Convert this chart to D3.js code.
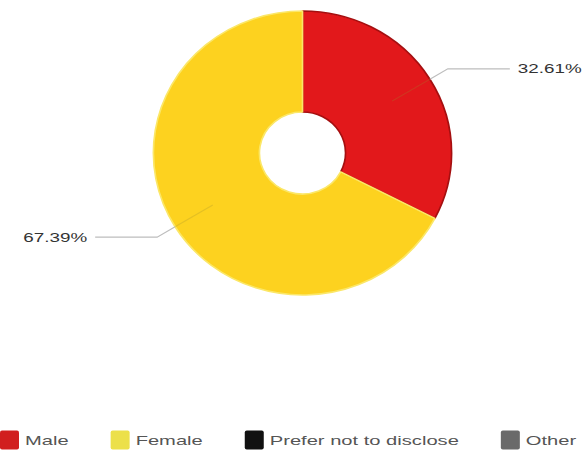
<!DOCTYPE html>
<html>
<head>
<meta charset="utf-8">
<script src="https://cdn.jsdelivr.net/npm/d3@7"></script>
<style>
  html, body { margin: 0; padding: 0; background: #fff; }
  svg { display: block; }
  text { font-family: "Liberation Sans", Arial, sans-serif; }
</style>
</head>
<body>
<svg id="chart" width="585" height="453"></svg>
<script>
// Gender split of respondents (percent)
const categories = ["Male", "Female", "Prefer not to disclose", "Other"];
const values = [32.61, 67.39, 0, 0];
const valueLabels = ["32.61%", "67.39%", "", ""];
const sliceColors = ["#e2181b", "#fdd21f", "#111111", "#666666"];
const sliceStrokes = ["#a50f10", "#fbe768", "#111111", "#666666"];
const legendColors = ["#d11e1e", "#ece04a", "#111111", "#6a6a6a"];

const W = 585, H = 453;
const cx = 302.5, cy = 153;
const rOuter = 142, rInner = 41;
const stretchX = 1.05;        // pie is drawn slightly wider than tall
const labelStretch = 1.45;    // wide lettering for value labels
const legendStretch = 1.55;   // wide lettering for legend entries

const svg = d3.select("#chart");

const data = categories.map((c, i) => ({ name: c, value: values[i], label: valueLabels[i], i }));

const pie = d3.pie().sort(null).value(d => d.value);
const arcs = pie(data);
const arc = d3.arc().innerRadius(rInner).outerRadius(rOuter);

const pieG = svg.append("g")
  .attr("transform", `translate(${cx},${cy}) scale(${stretchX},1)`);

pieG.selectAll("path.slice")
  .data(arcs.filter(a => a.data.value > 0))
  .join("path")
  .attr("class", "slice")
  .attr("d", arc)
  .attr("fill", d => sliceColors[d.data.i])
  .attr("stroke", d => sliceStrokes[d.data.i])
  .attr("stroke-width", 1.6)
  .attr("stroke-linejoin", "round");

// Leader lines and value labels
const lineStart = 100, lineBend = 162, lineRun = 62, labelGap = 8;
const labelled = arcs.filter(a => a.data.value > 0 && a.data.label);

labelled.forEach(a => {
  const mid = (a.startAngle + a.endAngle) / 2;
  const right = Math.sin(mid) >= 0;
  const pt = r => [cx + stretchX * r * Math.sin(mid), cy - r * Math.cos(mid)];
  const p0 = pt(lineStart), pEdge = pt(rOuter), p1 = pt(lineBend);
  const p2 = [p1[0] + (right ? lineRun : -lineRun), p1[1]];

  // faint part over the slice
  svg.append("path")
    .attr("d", d3.line()([p0, pEdge]))
    .attr("fill", "none")
    .attr("stroke", "#9a8a30")
    .attr("stroke-opacity", 0.25)
    .attr("stroke-width", 1.2);

  // outer part and horizontal run
  svg.append("path")
    .attr("d", d3.line()([pEdge, p1, p2]))
    .attr("fill", "none")
    .attr("stroke", "#bdbdbd")
    .attr("stroke-width", 1.2);

  svg.append("g")
    .attr("transform", `translate(${p2[0] + (right ? labelGap : -labelGap)},${p1[1] + 4.5}) scale(${labelStretch},1)`)
    .append("text")
    .attr("text-anchor", right ? "start" : "end")
    .attr("font-size", 13)
    .attr("fill", "#333")
    .text(a.data.label);
});

// Legend along the bottom
const legendY = 440, sw = 19, textPad = 6, itemGap = 42;
let lx = 0;
data.forEach(d => {
  const item = svg.append("g").attr("class", "legend-item");
  item.append("rect")
    .attr("x", lx).attr("y", legendY - sw / 2)
    .attr("width", sw).attr("height", sw)
    .attr("rx", 2)
    .attr("fill", legendColors[d.i]);
  const tg = item.append("g")
    .attr("transform", `translate(${lx + sw + textPad},${legendY + 5}) scale(${legendStretch},1)`);
  const t = tg.append("text")
    .attr("font-size", 13)
    .attr("fill", "#555")
    .text(d.name);
  const tw = t.node().getComputedTextLength() * legendStretch;
  lx += sw + textPad + tw + itemGap;
});
</script>
</body>
</html>
